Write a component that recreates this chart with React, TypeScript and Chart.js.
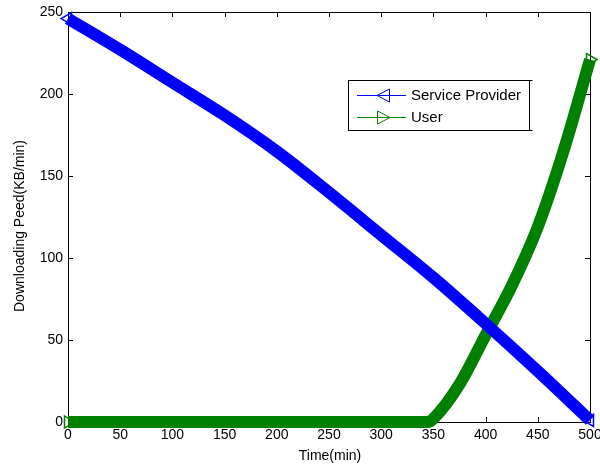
import React, { useEffect, useRef } from "react";
import { Chart, registerables } from "chart.js";

Chart.register(...registerables);

const xTicks = [0, 50, 100, 150, 200, 250, 300, 350, 400, 450, 500];
const yTicks = [0, 50, 100, 150, 200, 250];

const providerTime = [0, 50, 100, 150, 200, 250, 300, 350, 400, 450, 500];
const providerValues = [246, 227, 207, 187, 165, 140, 114, 88, 60, 31, 1];

const userTime = [0, 50, 100, 150, 200, 250, 300, 345, 350, 375, 400, 425, 450, 475, 500];
const userValues = [0, 0, 0, 0, 0, 0, 0, 0, 2, 23, 53, 83, 119, 166, 221];

const seriesNames = ["Service Provider", "User"];
const xTitle = "Time(min)";
const yTitle = "Downloading Peed(KB/min)";

const BLUE = "#0000ff";
const GREEN = "#008000";
const FONT = "'Liberation Sans', Arial, sans-serif";

const framePlugin = {
  id: "frame",
  beforeDatasetsDraw(chart: any) {
    const { ctx, chartArea } = chart;
    const { left, right, top, bottom } = chartArea;
    const xs = chart.scales.x;
    const ys = chart.scales.y;
    ctx.save();
    ctx.strokeStyle = "#000";
    ctx.lineWidth = 1;
    ctx.strokeRect(Math.round(left) + 0.5, Math.round(top) + 0.5, Math.round(right - left), Math.round(bottom - top));
    const tl = 5;
    ctx.beginPath();
    xTicks.forEach((v) => {
      const px = Math.round(xs.getPixelForValue(v)) + 0.5;
      ctx.moveTo(px, bottom);
      ctx.lineTo(px, bottom - tl);
      ctx.moveTo(px, top);
      ctx.lineTo(px, top + tl);
    });
    yTicks.forEach((v) => {
      const py = Math.round(ys.getPixelForValue(v)) + 0.5;
      ctx.moveTo(left, py);
      ctx.lineTo(left + tl, py);
      ctx.moveTo(right, py);
      ctx.lineTo(right - tl, py);
    });
    ctx.stroke();
    ctx.restore();
  },
  afterDraw(chart: any) {
    const { ctx, chartArea } = chart;
    ctx.save();
    ctx.fillStyle = "#000";
    ctx.font = `14px ${FONT}`;
    ctx.textAlign = "center";
    ctx.textBaseline = "middle";
    ctx.fillText(xTitle, (chartArea.left + chartArea.right) / 2 + 1, 456);
    ctx.save();
    ctx.translate(20, 226);
    ctx.rotate(-Math.PI / 2);
    ctx.fillText(yTitle, 0, 0);
    ctx.restore();

    const bx = 348.5, by = 80.5, bw = 181, bh = 50;
    ctx.fillStyle = "#fff";
    ctx.fillRect(bx, by, bw, bh);
    ctx.strokeStyle = "#000";
    ctx.lineWidth = 1;
    ctx.strokeRect(bx, by, bw, bh);
    ctx.beginPath();
    ctx.moveTo(bx + bw, by);
    ctx.lineTo(bx + bw + 3, by);
    ctx.moveTo(bx + bw, by + bh);
    ctx.lineTo(bx + bw + 3, by + bh);
    ctx.stroke();

    const rows = [
      { y: 95, color: BLUE, dir: -1, label: seriesNames[0] },
      { y: 117, color: GREEN, dir: 1, label: seriesNames[1] },
    ];
    rows.forEach((r) => {
      ctx.strokeStyle = r.color;
      ctx.lineWidth = 1;
      ctx.beginPath();
      ctx.moveTo(357, r.y + 0.5);
      ctx.lineTo(406, r.y + 0.5);
      ctx.stroke();
      const cx = 383.5;
      ctx.beginPath();
      ctx.moveTo(cx + r.dir * 6.5, r.y + 0.5);
      ctx.lineTo(cx - r.dir * 6, r.y + 0.5 - 6.5);
      ctx.lineTo(cx - r.dir * 6, r.y + 0.5 + 6.5);
      ctx.closePath();
      ctx.stroke();
      ctx.fillStyle = "#000";
      ctx.font = `15px ${FONT}`;
      ctx.textAlign = "left";
      ctx.textBaseline = "middle";
      ctx.fillText(r.label, 411, r.y + 1);
    });
    ctx.restore();
  },
};

const endRadius = (c: any) => {
  const n = c.dataset.data.length;
  return c.dataIndex === 0 || c.dataIndex === n - 1 ? 7 : 0;
};

export default function App() {
  const ref = useRef<HTMLCanvasElement | null>(null);

  useEffect(() => {
    if (!ref.current) return;
    const providerData = providerTime.map((t, i) => ({ x: t, y: providerValues[i] }));
    const userData = userTime.map((t, i) => ({ x: t, y: userValues[i] }));

    const chart = new Chart(ref.current, {
      type: "line",
      data: {
        datasets: [
          {
            label: seriesNames[0],
            data: providerData,
            borderColor: BLUE,
            backgroundColor: "rgba(0,0,0,0)",
            borderWidth: 12,
            borderCapStyle: "butt",
            cubicInterpolationMode: "monotone",
            pointStyle: "triangle",
            rotation: -90,
            pointRadius: endRadius,
            pointBorderWidth: 1.5,
            pointBorderColor: BLUE,
            pointBackgroundColor: "rgba(0,0,0,0)",
            clip: false as any,
          },
          {
            label: seriesNames[1],
            data: userData,
            borderColor: GREEN,
            backgroundColor: "rgba(0,0,0,0)",
            borderWidth: 12,
            borderCapStyle: "butt",
            cubicInterpolationMode: "monotone",
            pointStyle: "triangle",
            rotation: 90,
            pointRadius: endRadius,
            pointBorderWidth: 1.5,
            pointBorderColor: GREEN,
            pointBackgroundColor: "rgba(0,0,0,0)",
            clip: false as any,
          },
        ],
      },
      options: {
        responsive: false,
        animation: false,
        layout: { padding: { left: 0, right: 10, top: 12, bottom: 0 } },
        plugins: {
          legend: { display: false },
          tooltip: { enabled: false },
        },
        scales: {
          x: {
            type: "linear",
            min: 0,
            max: 500,
            grid: { display: false, drawTicks: false },
            border: { display: false },
            ticks: {
              stepSize: 50,
              padding: 5,
              color: "#000",
              font: { family: FONT, size: 14 },
              maxRotation: 0,
              autoSkip: false,
            },
            afterFit(scale: any) {
              scale.height = 46;
              scale.paddingLeft = 0;
              scale.paddingRight = 0;
            },
          },
          y: {
            type: "linear",
            min: 0,
            max: 250,
            grid: { display: false, drawTicks: false },
            border: { display: false },
            ticks: {
              stepSize: 50,
              padding: 5,
              color: "#000",
              font: { family: FONT, size: 14 },
            },
            afterFit(scale: any) {
              scale.width = 68;
              scale.paddingTop = 0;
              scale.paddingBottom = 0;
            },
          },
        },
      },
      plugins: [framePlugin],
    });
    return () => chart.destroy();
  }, []);

  return (
    <div style={{ position: "absolute", left: 0, top: 0, width: 600, height: 468, background: "#fff" }}>
      <canvas ref={ref} width={600} height={468} style={{ display: "block" }} />
    </div>
  );
}
